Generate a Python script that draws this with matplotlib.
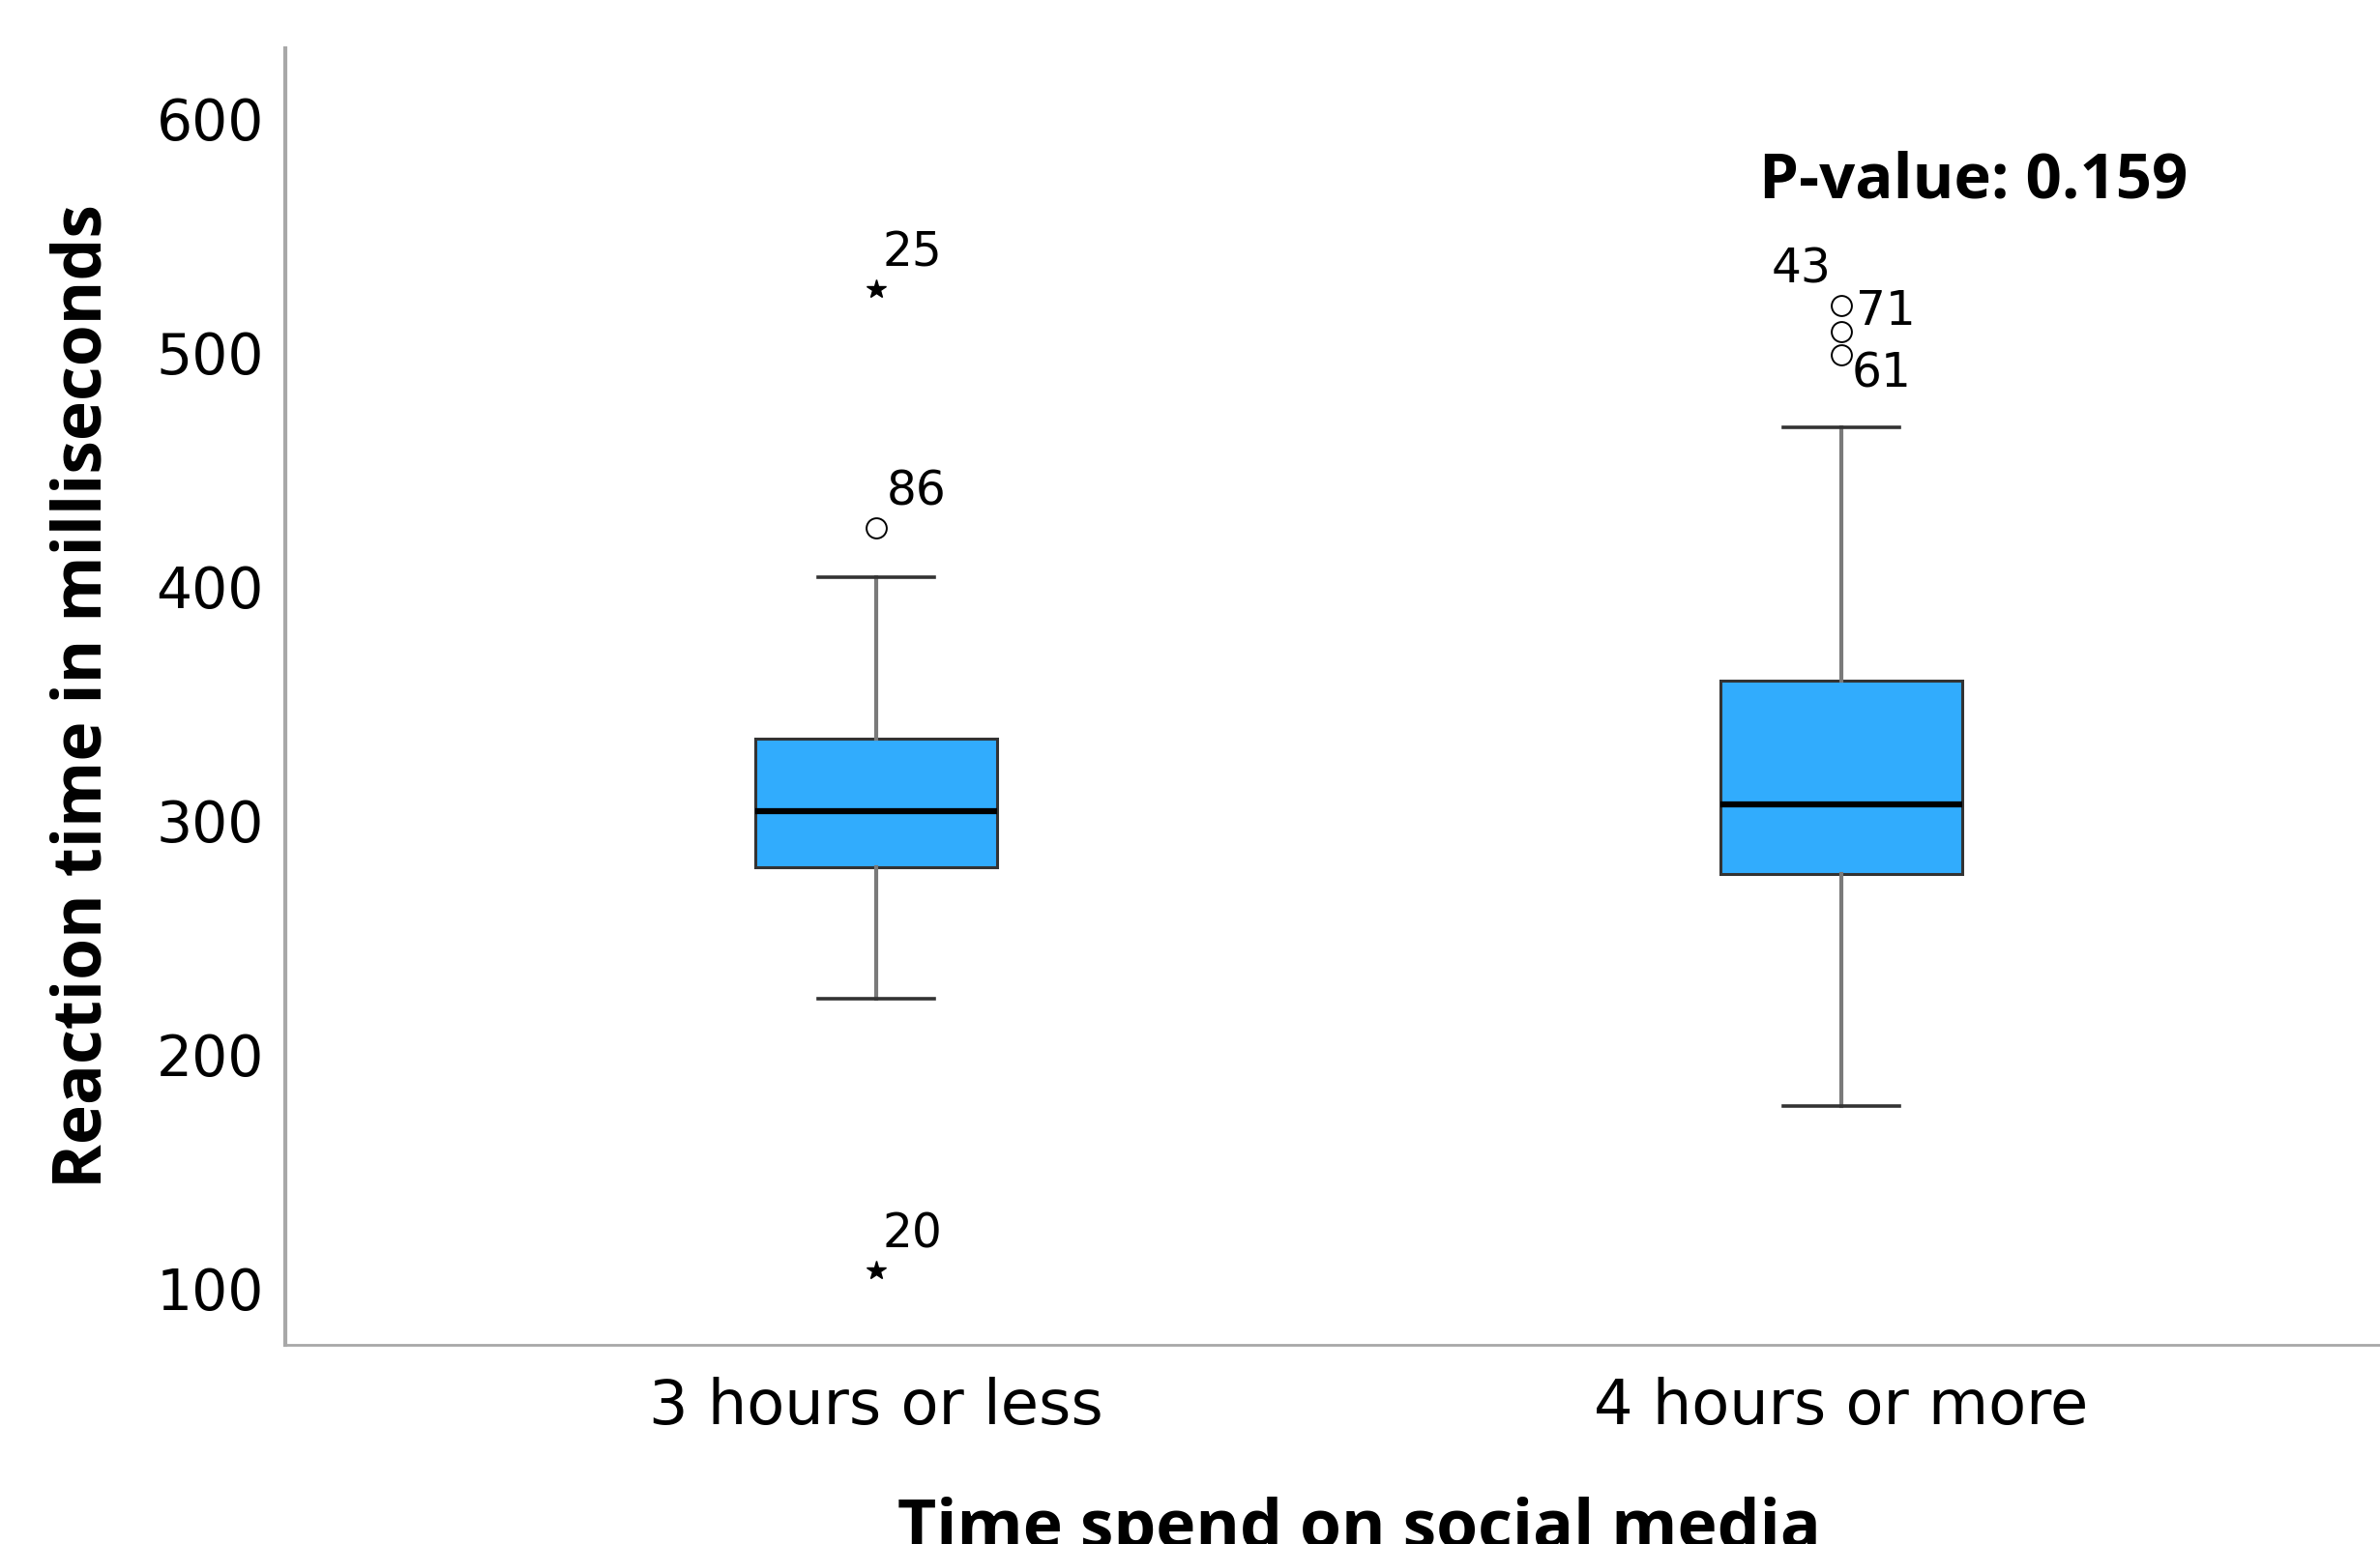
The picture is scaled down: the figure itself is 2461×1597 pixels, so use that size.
#!/usr/bin/env python3

import matplotlib
matplotlib.use('Agg')
import matplotlib.pyplot as plt

categories = ['3 hours or less', '4 hours or more']
q1 = [280, 277]
median = [304, 307]
q3 = [335, 360]
whisker_low = [224, 178]
whisker_high = [404, 468]

# circles = outliers, stars = extreme values, with case numbers
outlier_vals = [[425], [520, 509, 499]]
outlier_ids = [['86'], ['71', '43', '61']]
extreme_vals = [[527, 108], []]
extreme_ids = [['25', '20'], []]

p_value_text = 'P-value: 0.159'
y_ticks = [100, 200, 300, 400, 500, 600]


def main():
    fig = plt.figure(figsize=(24.61, 15.97), dpi=100)
    ax = fig.add_axes([0.1199, 0.129, 0.8801, 0.8397])

    positions = [1, 2]
    stats = []
    for i in range(len(categories)):
        stats.append(dict(med=median[i], q1=q1[i], q3=q3[i],
                          whislo=whisker_low[i], whishi=whisker_high[i],
                          fliers=[], label=categories[i]))

    ax.bxp(stats, positions=positions, widths=0.25, patch_artist=True,
           showfliers=False,
           boxprops=dict(facecolor='#31acfd', edgecolor='#333333', linewidth=2.2),
           medianprops=dict(color='black', linewidth=4.5, solid_capstyle='butt'),
           whiskerprops=dict(color='#7a7a7a', linewidth=3),
           capprops=dict(color='#333333', linewidth=2.6),
           capwidths=0.12)

    ann_font = dict(fontsize=35, family='DejaVu Sans', color='black')

    # outliers (circles)
    offsets_out = {'86': (30, 27), '71': (33, -4), '43': (-30, 46), '61': (30, -14)}
    for i, pos in enumerate(positions):
        for v, lab in zip(outlier_vals[i], outlier_ids[i]):
            ax.plot(pos, v, marker='o', ms=15, mfc='white', mec='black',
                    mew=1.4, linestyle='none', zorder=4)
            ax.annotate(lab, (pos, v), xytext=offsets_out[lab],
                        textcoords='offset points', ha='center', va='center',
                        **ann_font)

    # extremes (stars)
    for i, pos in enumerate(positions):
        for v, lab in zip(extreme_vals[i], extreme_ids[i]):
            ax.plot(pos, v, marker='*', ms=15, color='black',
                    linestyle='none', zorder=4)
            ax.annotate(lab, (pos, v), xytext=(27, 27),
                        textcoords='offset points', ha='center', va='center',
                        **ann_font)

    ax.text(2.137, 573, p_value_text, fontsize=47, fontweight='bold',
            family='Open Sans', ha='center', va='center')

    ax.set_xlim(0.388, 2.558)
    ax.set_ylim(76, 630)
    ax.set_yticks(y_ticks)
    ax.set_yticklabels([str(t) for t in y_ticks])
    ax.set_xticks(positions)
    ax.set_xticklabels(categories)
    ax.tick_params(axis='both', length=0)
    ax.tick_params(axis='y', pad=16, labelsize=42)
    ax.tick_params(axis='x', pad=24, labelsize=46)

    for side in ['top', 'right']:
        ax.spines[side].set_visible(False)
    ax.spines['left'].set_color('#a8a8a8')
    ax.spines['left'].set_linewidth(3)
    ax.spines['bottom'].set_color('#a8a8a8')
    ax.spines['bottom'].set_linewidth(2)

    fig.text(0.035, 0.549, 'Reaction time in milliseconds', rotation=90,
             fontsize=50, fontweight='bold', family='Open Sans',
             ha='center', va='center')
    fig.text(0.571, -0.013, 'Time spend on social media', fontsize=50,
             fontweight='bold', family='Open Sans',
             ha='center', va='bottom')

    fig.savefig('out.png', dpi=100)


if __name__ == '__main__':
    main()
